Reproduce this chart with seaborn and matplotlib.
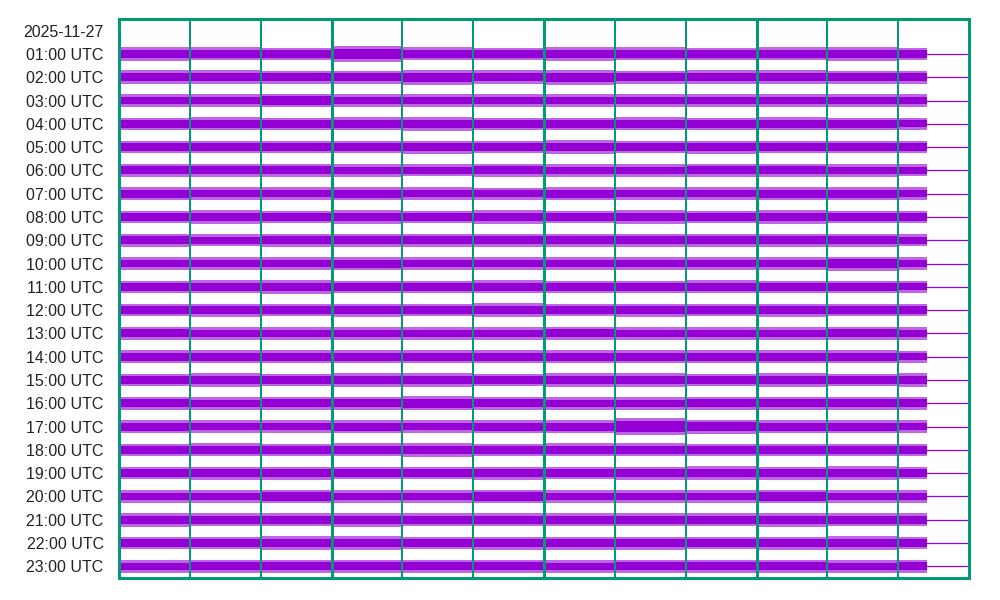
import numpy as np
import pandas as pd
import matplotlib
matplotlib.use("Agg")
import matplotlib.pyplot as plt
import seaborn as sns

# Data: helicorder, one row per hour, peak amplitude (counts) per 5-minute block
date_label = "2025-11-27"
hours = [f"{h:02d}:00 UTC" for h in range(1, 24)]
block_edges = [0, 5, 10, 15, 20, 25, 30, 35, 40, 45, 50, 55, 57]  # minutes, trace stops at ~57

peak = {
    "01:00 UTC": [300, 280, 270, 340, 280, 270, 290, 280, 270, 280, 290, 270],
    "02:00 UTC": [290, 300, 270, 280, 320, 300, 320, 280, 300, 290, 280, 270],
    "03:00 UTC": [280, 270, 290, 270, 260, 280, 270, 280, 270, 260, 270, 270],
    "04:00 UTC": [270, 280, 270, 280, 290, 270, 270, 280, 270, 280, 270, 260],
    "05:00 UTC": [260, 270, 260, 270, 280, 270, 290, 270, 280, 260, 270, 270],
    "06:00 UTC": [280, 290, 280, 270, 260, 280, 270, 270, 280, 290, 270, 260],
    "07:00 UTC": [280, 270, 270, 280, 270, 260, 280, 270, 270, 280, 290, 270],
    "08:00 UTC": [270, 280, 270, 290, 270, 280, 270, 280, 270, 280, 270, 270],
    "09:00 UTC": [270, 260, 270, 280, 270, 280, 270, 270, 280, 270, 280, 260],
    "10:00 UTC": [280, 270, 280, 290, 270, 280, 270, 280, 270, 280, 300, 280],
    "11:00 UTC": [270, 280, 300, 270, 270, 280, 270, 270, 280, 270, 270, 260],
    "12:00 UTC": [270, 280, 270, 280, 270, 290, 270, 280, 270, 280, 270, 270],
    "13:00 UTC": [290, 270, 280, 270, 270, 280, 290, 270, 270, 280, 290, 270],
    "14:00 UTC": [270, 280, 280, 270, 280, 290, 270, 280, 270, 280, 270, 260],
    "15:00 UTC": [270, 280, 270, 280, 300, 270, 280, 290, 270, 280, 270, 280],
    "16:00 UTC": [290, 270, 280, 290, 300, 280, 270, 270, 280, 290, 280, 280],
    "17:00 UTC": [280, 270, 270, 280, 270, 280, 290, 380, 300, 280, 290, 270],
    "18:00 UTC": [270, 280, 270, 280, 290, 270, 280, 280, 270, 270, 270, 270],
    "19:00 UTC": [270, 280, 280, 270, 270, 280, 270, 280, 290, 280, 290, 270],
    "20:00 UTC": [280, 270, 290, 280, 270, 290, 280, 280, 270, 290, 280, 280],
    "21:00 UTC": [290, 280, 270, 290, 280, 280, 270, 280, 280, 290, 280, 270],
    "22:00 UTC": [270, 270, 300, 290, 270, 280, 280, 280, 270, 280, 290, 270],
    "23:00 UTC": [270, 290, 280, 290, 280, 280, 270, 280, 290, 280, 270, 280],
}

# Style
trace_color = "#9400d3"
grid_color = "#009b74"
text_color = "#222222"
counts_per_row = 1000.0
core_frac = 0.6

sns.set_theme(style="white")
plt.rcParams["font.family"] = ["Liberation Sans", "DejaVu Sans"]

fig = plt.figure(figsize=(10, 6), dpi=100)
ax = fig.add_axes([0.119, 22 / 600, 0.850, 559 / 600])

# Baselines through the whole hour
base_df = pd.DataFrame(
    [(m, i + 1, h) for i, h in enumerate(hours) for m in (0, 60)],
    columns=["minute", "row", "hour"],
)
sns.lineplot(data=base_df, x="minute", y="row", units="hour", estimator=None,
             color=trace_color, linewidth=0.9, legend=False, ax=ax, zorder=2)

# Trace envelopes
xs = np.array(block_edges, dtype=float)
for i, h in enumerate(hours):
    row = i + 1
    amp = np.array(peak[h] + [peak[h][-1]]) / counts_per_row
    ax.fill_between(xs, row - amp, row + amp, step="post",
                    color=trace_color, alpha=0.6, linewidth=0, zorder=3)
    ax.fill_between(xs, row - amp * core_frac, row + amp * core_frac, step="post",
                    color=trace_color, linewidth=0, zorder=4)

# 5-minute grid, heavier every 15 minutes
for m in range(5, 60, 5):
    lw = 2.16 if m % 15 == 0 else 1.44
    ax.axvline(m, color=grid_color, linewidth=lw, zorder=5)

ax.set_xlim(0, 60)
ax.set_ylim(23.5, -0.5)
ax.set_xticks([])
ax.set_yticks(range(24))
ax.set_yticklabels([date_label] + hours, fontsize=11.5, color=text_color)
ax.tick_params(axis="y", length=0, pad=11)
ax.set_xlabel("")
ax.set_ylabel("")
for s in ax.spines.values():
    s.set_visible(True)
    s.set_color(grid_color)
    s.set_linewidth(2.16)
    s.set_zorder(6)

fig.savefig("out.png", dpi=100)
